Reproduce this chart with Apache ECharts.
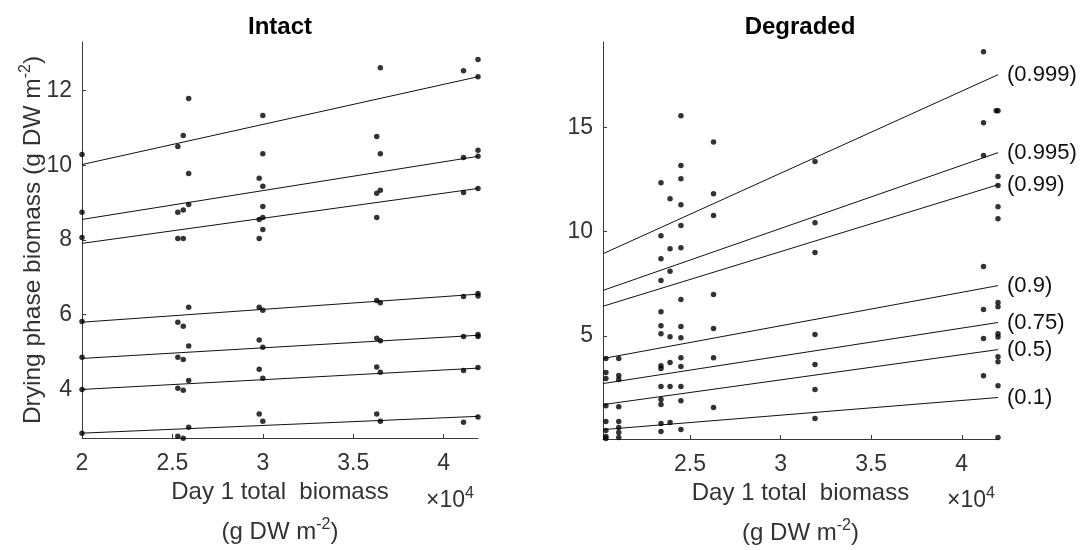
<!DOCTYPE html>
<html><head><meta charset="utf-8">
<script src="https://cdn.jsdelivr.net/npm/echarts@6/dist/echarts.min.js"></script>
<style>html,body{margin:0;padding:0;background:#fff}#c{width:1086px;height:550px}</style>
</head><body><div id="c"></div>
<script>
// ---- Data (x in units of 10^4 g DW m^-2) ----
const intactCols = [2.0, 2.53, 2.56, 2.59, 2.98, 3.0, 3.63, 3.65, 4.11, 4.19];
const intactVals = [
  [10.29, 8.74, 8.07, 5.82, 4.86, 4.0, 2.83],
  [10.5, 8.74, 8.04, 5.8, 4.86, 4.03, 2.75],
  [10.8, 8.8, 8.04, 5.69, 4.8, 3.98, 2.69],
  [11.79, 9.78, 8.95, 6.2, 5.16, 4.24, 2.99],
  [9.65, 8.55, 8.04, 6.2, 5.32, 4.54, 3.34],
  [11.33, 10.31, 9.44, 8.9, 8.6, 8.28, 6.12, 5.13, 4.3, 3.15],
  [10.77, 9.25, 8.6, 6.38, 5.37, 4.6, 3.34],
  [12.61, 10.31, 9.33, 6.32, 5.3, 4.46, 3.15],
  [12.53, 10.21, 9.27, 6.49, 5.42, 4.51, 3.12],
  [12.83, 12.37, 10.4, 10.24, 9.38, 6.57, 6.5, 5.47, 5.42, 4.59, 3.26]
];
const degradedCols = [2.036, 2.107, 2.34, 2.39, 2.45, 2.63, 3.19, 4.12, 4.19, 4.2];
const degradedVals = [
  [3.91, 3.24, 2.95, 1.65, 0.89, 0.46, 0.17, 0.07],
  [3.91, 3.1, 2.9, 1.6, 0.89, 0.6, 0.36, 0.12],
  [12.35, 9.8, 8.7, 7.65, 6.16, 5.49, 5.1, 3.57, 3.43, 2.57, 1.94, 1.7, 0.79, 0.41],
  [11.58, 9.18, 8.1, 4.96, 3.72, 2.57, 0.84],
  [15.56, 13.17, 12.54, 11.29, 10.29, 9.23, 6.74, 5.45, 4.91, 3.95, 3.53, 2.57, 1.89, 0.5],
  [14.3, 11.82, 10.77, 6.98, 5.35, 3.95, 1.56],
  [13.36, 10.43, 9.0, 5.06, 3.62, 2.42, 1.03],
  [18.63, 15.22, 13.65, 8.33, 6.26, 4.87, 3.09],
  [15.8],
  [15.8, 12.65, 12.22, 11.2, 10.62, 6.6, 6.4, 5.1, 4.95, 4.0, 3.76, 2.61, 0.12]
];
// quantile regression lines: value at line start and end
const intactLineX = [2.0, 4.19];
const intactLineStart = [10.02, 8.55, 7.91, 5.8, 4.83, 4.0, 2.83];
const intactLineEnd = [12.37, 10.24, 9.38, 6.55, 5.45, 4.57, 3.28];
const degradedLineX = [2.02, 4.2];
const quantileLabels = ['(0.999)', '(0.995)', '(0.99)', '(0.9)', '(0.75)', '(0.5)', '(0.1)'];
const degradedLineStart = [8.94, 7.18, 6.42, 3.91, 2.71, 1.7, 0.5];
const degradedLineEnd = [17.53, 13.79, 12.25, 7.41, 5.64, 4.34, 2.04];
// axes
const intactXRange = [2.0, 4.19];
const intactYRange = [2.7, 13.3];
const degradedXRange = [2.02, 4.2];
const degradedYRange = [0.05, 19.1];
const intactXTicks = [2, 2.5, 3, 3.5, 4];
const intactYTicks = [4, 6, 8, 10, 12];
const degradedXTicks = [2.5, 3, 3.5, 4];
const degradedYTicks = [5, 10, 15];

const FONT = "'Liberation Sans', Arial, Helvetica, sans-serif";
const AX = '#3a3a3a';
const TXT = '#333333';

function pts(cols, vals) {
  const out = [];
  cols.forEach((x, i) => vals[i].forEach(y => out.push([x, y])));
  return out;
}
const supRich = { s: { fontSize: 16, fontFamily: FONT, color: TXT, padding: [0, 0, 15, 0] } };

function xAxis(idx, range, ticks) {
  return {
    type: 'value', gridIndex: idx, min: range[0], max: range[1],
    axisLine: { show: true, onZero: false, lineStyle: { color: AX, width: 1 } },
    axisTick: { show: true, inside: true, length: 4, customValues: ticks, lineStyle: { color: AX } },
    axisLabel: { customValues: ticks, fontSize: 23, fontFamily: FONT, color: TXT, margin: 14, showMinLabel: true, showMaxLabel: true },
    splitLine: { show: false },
    name: 'Day 1 total  biomass\n(g DW m{s|-2})',
    nameLocation: 'middle', nameGap: 34, nameMoveOverlap: false,
    nameTextStyle: { fontSize: 24, fontFamily: FONT, color: TXT, lineHeight: 40, rich: supRich }
  };
}
function yAxis(idx, range, ticks, name) {
  return {
    type: 'value', gridIndex: idx, min: range[0], max: range[1],
    axisLine: { show: true, onZero: false, lineStyle: { color: AX, width: 1 } },
    axisTick: { show: true, inside: true, length: 4, customValues: ticks, lineStyle: { color: AX } },
    axisLabel: { customValues: ticks, fontSize: 23, fontFamily: FONT, color: TXT, margin: 10 },
    splitLine: { show: false },
    name: name, nameLocation: 'middle', nameGap: 33, nameMoveOverlap: false,
    nameTextStyle: { fontSize: 24.5, fontFamily: FONT, color: TXT, rich: supRich }
  };
}

const series = [];
series.push({ type: 'scatter', xAxisIndex: 0, yAxisIndex: 0, data: pts(intactCols, intactVals),
  symbolSize: 5.5, itemStyle: { color: '#000' }, clip: false, z: 3 });
series.push({ type: 'scatter', xAxisIndex: 1, yAxisIndex: 1, data: pts(degradedCols, degradedVals),
  symbolSize: 5.5, itemStyle: { color: '#000' }, clip: false, z: 3 });
intactLineStart.forEach((s, i) => {
  series.push({ type: 'line', xAxisIndex: 0, yAxisIndex: 0, showSymbol: false, symbol: 'none',
    data: [[intactLineX[0], s], [intactLineX[1], intactLineEnd[i]]],
    lineStyle: { color: '#111', width: 1 }, z: 2 });
});
degradedLineStart.forEach((s, i) => {
  series.push({ type: 'line', name: quantileLabels[i], xAxisIndex: 1, yAxisIndex: 1, showSymbol: false, symbol: 'none',
    data: [[degradedLineX[0], s], [degradedLineX[1], degradedLineEnd[i]]],
    lineStyle: { color: '#111', width: 1 }, z: 2,
    endLabel: { show: true, formatter: p => p.seriesName, fontSize: 22, fontFamily: FONT, color: '#111', distance: 9 } });
});

const chart = echarts.init(document.getElementById('c'), null, { renderer: 'canvas' });
chart.setOption({
  animation: false,
  backgroundColor: '#fff',
  grid: [
    { left: 82, top: 42, width: 396, height: 396, containLabel: false, outerBoundsMode: 'none' },
    { left: 603, top: 42, width: 395, height: 397, containLabel: false, outerBoundsMode: 'none' }
  ],
  xAxis: [xAxis(0, intactXRange, intactXTicks), xAxis(1, degradedXRange, degradedXTicks)],
  yAxis: [yAxis(0, intactYRange, intactYTicks, 'Drying phase biomass (g DW m{s|-2})'), yAxis(1, degradedYRange, degradedYTicks, '')],
  series: series,
  graphic: [
    { type: 'text', x: 280, y: 27, style: { text: 'Intact', font: 'bold 24px ' + FONT, fill: '#000', align: 'center', verticalAlign: 'middle' } },
    { type: 'text', x: 800, y: 27, style: { text: 'Degraded', font: 'bold 24px ' + FONT, fill: '#000', align: 'center', verticalAlign: 'middle' } },
    { type: 'text', x: 426, y: 501, style: { text: '×10{s|4}', font: '23px ' + FONT, fill: TXT, verticalAlign: 'middle', rich: supRich } },
    { type: 'text', x: 947, y: 501, style: { text: '×10{s|4}', font: '23px ' + FONT, fill: TXT, verticalAlign: 'middle', rich: supRich } }
  ]
});
</script></body></html>
